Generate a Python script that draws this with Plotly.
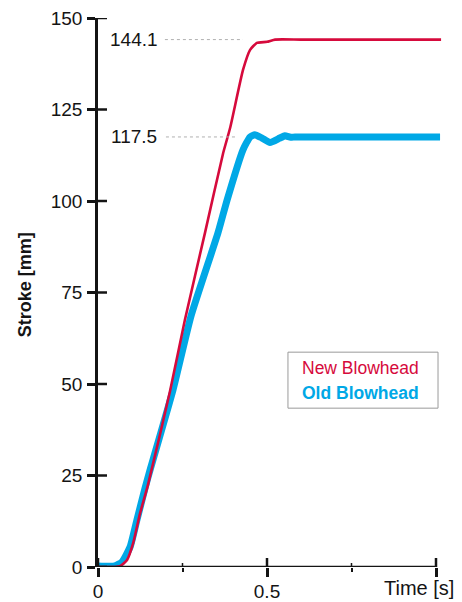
import plotly.graph_objects as go

# Stroke vs time for the two blowhead designs
new_t = [0.0, 0.05, 0.065, 0.086, 0.104, 0.124, 0.148, 0.213, 0.257, 0.317, 0.370,
         0.391, 0.429, 0.450, 0.470, 0.500, 0.524, 0.600, 0.800, 1.015]
new_stroke = [0.0, 0.0, 0.2, 1.9, 6.5, 14.5, 22.5, 48.0, 67.5, 91.5, 113.0,
              120.0, 135.8, 141.3, 143.2, 143.5, 144.1, 144.1, 144.1, 144.1]

old_t = [0.0, 0.05, 0.071, 0.095, 0.115, 0.139, 0.154, 0.222, 0.275, 0.355, 0.382,
         0.429, 0.450, 0.464, 0.485, 0.509, 0.538, 0.553, 0.570, 0.583, 0.700, 1.012]
old_stroke = [0.3, 0.3, 1.4, 5.5, 12.8, 21.5, 26.5, 48.4, 68.5, 91.3, 100.3,
              114.0, 117.5, 118.1, 117.2, 116.0, 117.2, 117.8, 117.4, 117.5, 117.5, 117.5]

new_final = 144.1
old_final = 117.5

y_ticks = [0, 25, 50, 75, 100, 125, 150]
x_ticks = [0, 0.5, 1.0]
x_tick_text = ["0", "0.5", ""]
x_minor = [0.25, 0.75]

RED = "#d60a3c"
BLUE = "#00a8e6"
INK = "#141414"
FONT = "Liberation Sans, Arial, sans-serif"
X_MAX = 345 / 338

fig = go.Figure()

fig.add_trace(go.Scatter(
    x=old_t, y=old_stroke, mode="lines", name="Old Blowhead",
    line=dict(color=BLUE, width=7, shape="spline", smoothing=0.5),
    hoverinfo="skip",
))
fig.add_trace(go.Scatter(
    x=new_t, y=new_stroke, mode="lines", name="New Blowhead",
    line=dict(color=RED, width=2.6, shape="spline", smoothing=0.5),
    hoverinfo="skip",
))

fig.update_layout(
    width=462, height=602,
    margin=dict(l=98, r=19, t=18, b=35),
    paper_bgcolor="white", plot_bgcolor="white",
    showlegend=False,
    font=dict(family=FONT, color=INK, size=19),
    xaxis=dict(
        range=[0, X_MAX], showline=False, automargin=False,
        showgrid=False, zeroline=False,
        tickmode="array", tickvals=x_ticks, ticktext=x_tick_text,
        ticks="outside", ticklen=9, tickwidth=2.5, tickcolor=INK,
        ticklabelstandoff=-2,
        tickfont=dict(size=19, family=FONT, color=INK),
        minor=dict(tickmode="array", tickvals=x_minor, ticks="outside",
                   ticklen=4, tickwidth=1.5, tickcolor=INK),
    ),
    yaxis=dict(
        range=[0, 150], showline=True, linecolor=INK, linewidth=2.5,
        automargin=False, showgrid=False, zeroline=False,
        tickmode="array", tickvals=y_ticks,
        ticks="outside", ticklen=8, tickwidth=2.5, tickcolor=INK,
        ticklabelstandoff=1,
        tickfont=dict(size=19, family=FONT, color=INK),
    ),
)

# x axis line ends at t = 1.0
fig.add_shape(type="line", xref="x", yref="y", x0=0, x1=1.0, y0=0, y1=0,
              line=dict(color=INK, width=2.5))

# inner halves of the crossing tick marks
for v in y_ticks:
    fig.add_shape(type="line", xref="x", yref="y", xsizemode="pixel", xanchor=0,
                  x0=0, x1=9, y0=v, y1=v, line=dict(color=INK, width=2.5))
for v in x_ticks:
    fig.add_shape(type="line", xref="x", yref="y", ysizemode="pixel", yanchor=0,
                  y0=0, y1=9, x0=v, x1=v, line=dict(color=INK, width=2.5))
for v in x_minor:
    fig.add_shape(type="line", xref="x", yref="y", ysizemode="pixel", yanchor=0,
                  y0=0, y1=4, x0=v, x1=v, line=dict(color=INK, width=1.5))

# dotted leaders to the final stroke values
fig.add_shape(type="line", xref="x", yref="y", x0=0.198, x1=0.429,
              y0=new_final, y1=new_final,
              line=dict(color="#b0b0b0", width=1, dash="dot"))
fig.add_shape(type="line", xref="x", yref="y", x0=0.201, x1=0.411,
              y0=old_final, y1=old_final,
              line=dict(color="#b0b0b0", width=1, dash="dot"))

fig.add_annotation(x=0.1065, y=new_final, xref="x", yref="y",
                   text=f"{new_final:.1f}", showarrow=False,
                   xanchor="center", yanchor="middle",
                   font=dict(size=19, family=FONT, color=INK))
fig.add_annotation(x=0.1065, y=old_final, xref="x", yref="y",
                   text=f"{old_final:.1f}", showarrow=False,
                   xanchor="center", yanchor="middle",
                   font=dict(size=19, family=FONT, color=INK))

# legend box
fig.add_shape(type="rect", xref="x", yref="y", x0=0.562, x1=1.006, y0=43.4, y1=58.7,
              line=dict(color="#9a9a9a", width=1), fillcolor="white", layer="above")
fig.add_annotation(x=0.778, y=54.4, xref="x", yref="y", text="New Blowhead",
                   showarrow=False, xanchor="center", yanchor="middle",
                   font=dict(size=17.5, family=FONT, color=RED))
fig.add_annotation(x=0.778, y=47.5, xref="x", yref="y", text="<b>Old Blowhead</b>",
                   showarrow=False, xanchor="center", yanchor="middle",
                   font=dict(size=17.5, family=FONT, color=BLUE))

# axis titles
fig.add_annotation(x=(25 - 98) / 345, y=77, xref="paper", yref="y",
                   text="<b>Stroke [mm]</b>", textangle=-90, showarrow=False,
                   xanchor="center", yanchor="middle",
                   font=dict(size=18, family=FONT, color=INK))
fig.add_annotation(x=(419 - 98) / 345, y=-21 / 549, xref="paper", yref="paper",
                   text="Time [s]", showarrow=False,
                   xanchor="center", yanchor="middle",
                   font=dict(size=20, family=FONT, color=INK))

fig.write_html("out.html")
